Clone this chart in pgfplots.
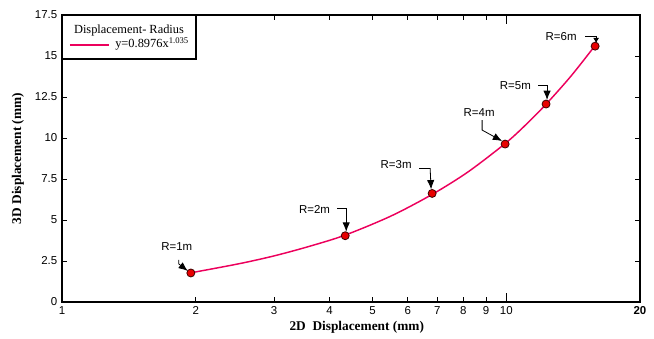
\documentclass[border=0pt]{standalone}
\usepackage{fontspec}
\setmainfont{Liberation Serif}
\setsansfont{Liberation Sans}
\usepackage{pgfplots}
\pgfplotsset{compat=1.18}
\usetikzlibrary{arrows.meta}
\definecolor{curvec}{RGB}{236,0,92}
\definecolor{mk}{RGB}{232,0,0}
\newcommand{\annfont}{\sffamily\fontsize{8.6}{10}\selectfont}
\begin{document}
\begin{tikzpicture}
\begin{axis}[name=ax, scale only axis, width=433.5pt, height=215.25pt,
  xmode=log, xmin=1, xmax=20, ymin=0, ymax=17.5,
  axis line style={line width=1.5pt},
  xtick={1,2,3,4,5,6,7,8,9,10,20},
  xticklabels={1,2,3,4,5,6,7,8,9,10,\textbf{20}},
  minor xtick={},
  ytick={0,2.5,5,7.5,10,12.5,15,17.5},
  yticklabels={0,2.5,5,7.5,10,12.5,15,17.5},
  tick align=inside,
  major tick length=3.5pt,
  tick style={black, line width=0.6pt},
  extra x ticks={10}, extra x tick labels={},
  extra x tick style={major tick length=6.5pt},
  tick label style={font=\sffamily\fontsize{8.6}{10}\selectfont},
  /pgf/number format/assume math mode=true,
  xlabel={2D\ \ Displacement (mm)},
  ylabel={3D Displacement (mm)},
  label style={font=\bfseries\fontsize{10}{12}\selectfont},
  xlabel style={at={(axis description cs:0.51,-0.087)}, anchor=center},
  ylabel style={at={(axis description cs:-0.0761,0.5)}, anchor=center},
  clip=false,
]
% fitted curve, points
\addplot[curvec, line width=1.1pt, smooth, tension=0.5, no markers] coordinates {
  (1.95,1.78) (2.5,2.33) (3,2.81) (3.6,3.39) (4.34,4.08) (5.5,5.24) (6.81,6.56)
  (8.2,7.93) (9.94,9.66) (11,10.74) (12.29,12.06) (14,13.79) (15.85,15.64)};
\addplot[only marks, mark=*, mark size=3pt, mark options={fill=mk, draw=black!75!red, line width=0.6pt}] coordinates {
  (1.95,1.77) (4.34,4.04) (6.81,6.62) (9.94,9.63) (12.29,12.07) (15.85,15.6)};
\coordinate (p1) at (axis cs:1.95,1.77);
\coordinate (p2) at (axis cs:4.34,4.04);
\coordinate (p3) at (axis cs:6.81,6.62);
\coordinate (p4) at (axis cs:9.94,9.63);
\coordinate (p5) at (axis cs:12.29,12.07);
\coordinate (p6) at (axis cs:15.85,15.6);
\end{axis}
\tikzset{ann/.style={-{Latex[length=7pt,width=5.5pt]}, line width=0.6pt, black},
         px/.style={x=0.75pt, y=-0.75pt}}
% R=1m
\node[font=\annfont] at ([xshift=-10.5pt,yshift=19.5pt]p1) {R=1m};
\draw[ann, shift={(p1)}, px] (-12,-13) -- (-12,-9) -- (-3,-2);
% R=2m
\node[font=\annfont] at ([xshift=-23pt,yshift=20pt]p2) {R=2m};
\draw[ann, shift={(p2)}, px] (-8,-27) -- (1,-27) -- (1,-4);
% R=3m
\node[font=\annfont] at ([xshift=-27pt,yshift=21.5pt]p3) {R=3m};
\draw[ann, shift={(p3)}, px] (-13,-25) -- (-2,-25) -- (-1,-4);
% R=4m
\node[font=\annfont] at ([xshift=-19.5pt,yshift=24pt]p4) {R=4m};
\draw[ann, shift={(p4)}, px] (-23,-24) -- (-23,-14) -- (-3,-3);
% R=5m
\node[font=\annfont] at ([xshift=-23pt,yshift=13.5pt]p5) {R=5m};
\draw[ann, shift={(p5)}, px] (-8,-19) -- (1,-19) -- (1,-4);
% R=6m
\node[font=\annfont] at ([xshift=-25.5pt,yshift=7.5pt]p6) {R=6m};
\draw[line width=0.6pt, shift={(p6)}, px] (-10,-10) -- (1,-10) -- (1,-5);
\draw[-{Latex[length=4pt,width=4.5pt]}, line width=0.6pt, shift={(p6)}, px] (1,-8) -- (1,-3);
% legend
\begin{scope}[shift={(ax.north west)}, px]
\draw[line width=1.3pt, fill=white] (0,0) rectangle (134,44);
\node[anchor=base, inner sep=0pt, font=\fontsize{9.3}{11}\selectfont] at (67,19) {Displacement- Radius};
\draw[curvec, line width=1.1pt] (8,30) -- (47,30);
\node[anchor=base west, inner sep=0pt, font=\fontsize{9.3}{11}\selectfont] at (53,33) {y=0.8976x\raisebox{3.2pt}{\fontsize{6.5}{7}\selectfont 1.035}};
\end{scope}
\pgfresetboundingbox
\path[use as bounding box] ([xshift=-46.5pt,yshift=-27.75pt]ax.south west) rectangle ([xshift=10.5pt,yshift=11.25pt]ax.north east);
\end{tikzpicture}
\end{document}
